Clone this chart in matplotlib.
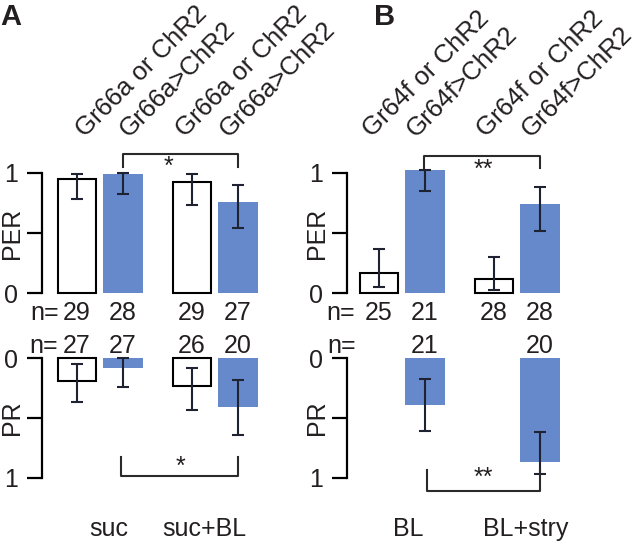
import matplotlib
matplotlib.use("Agg")
import matplotlib.pyplot as plt
import matplotlib.transforms as mtransforms
import numpy as np

plt.rcParams['font.family'] = ['Liberation Sans', 'DejaVu Sans']
plt.rcParams['text.color'] = '#231f20'

BLUE = '#6689cb'
INK = '#1f2230'

# bar positions (controls, ChR2) x 2 conditions
pos = [0, 1, 2.5, 3.5]
is_exp = [False, True, False, True]

# panel A : Gr66a
geno_A = ['Gr66a or ChR2', 'Gr66a>ChR2', 'Gr66a or ChR2', 'Gr66a>ChR2']
per_A = [0.95, 0.99, 0.92, 0.76]
per_A_lo = [0.78, 0.82, 0.73, 0.54]
per_A_hi = [0.99, 1.00, 0.99, 0.90]
n_per_A = ['29', '28', '29', '27']
pr_A = [0.19, 0.08, 0.23, 0.41]
pr_A_lo = [0.05, 0.00, 0.08, 0.18]
pr_A_hi = [0.37, 0.24, 0.43, 0.64]
n_pr_A = ['27', '27', '26', '20']
cond_A = ['suc', 'suc+BL']

# panel B : Gr64f
geno_B = ['Gr64f or ChR2', 'Gr64f>ChR2', 'Gr64f or ChR2', 'Gr64f>ChR2']
per_B = [0.17, 1.02, 0.12, 0.74]
per_B_lo = [0.055, 0.85, 0.03, 0.52]
per_B_hi = [0.37, 1.02, 0.30, 0.88]
n_per_B = ['25', '21', '28', '28']
pr_B = [np.nan, 0.39, np.nan, 0.87]
pr_B_lo = [np.nan, 0.17, np.nan, 0.62]
pr_B_hi = [np.nan, 0.61, np.nan, 0.97]
n_pr_B = ['', '21', '', '20']
cond_B = ['BL', 'BL+stry']

W, H = 640, 543
fig = plt.figure(figsize=(6.4, 5.43), dpi=100)


def make_ax(left_px, top_px, bot_px, xmin, ylim):
    ax = fig.add_axes([left_px / W, (H - bot_px) / H, 228 / W, (bot_px - top_px) / H])
    ax.set_xlim(xmin, xmin + 228 / 46)
    ax.set_ylim(*ylim)
    for s in ['top', 'right', 'bottom']:
        ax.spines[s].set_visible(False)
    ax.spines['left'].set_bounds(0, 1)
    ax.spines['left'].set_linewidth(1.6)
    ax.spines['left'].set_color('black')
    ax.set_xticks([])
    ax.set_yticks([0, 0.5, 1])
    ax.set_yticklabels(['0', '', '1'])
    ax.tick_params(axis='y', direction='out', length=11, width=1.6, pad=6,
                   labelsize=18, colors='black', labelcolor='#231f20')
    ax.patch.set_alpha(0)
    return ax


def draw_bars(ax, vals, lo, hi):
    for x, v, l, h, e in zip(pos, vals, lo, hi, is_exp):
        if np.isnan(v):
            continue
        if e:
            ax.bar(x, v, width=0.87, color=BLUE, edgecolor='none', zorder=2, clip_on=False)
        else:
            ax.bar(x, v, width=0.84, color='white', edgecolor='black', linewidth=1.5,
                   zorder=2, clip_on=False)
        ax.errorbar(x, v, yerr=[[max(v - l, 0)], [max(h - v, 0)]], fmt='none', ecolor=INK,
                    elinewidth=1.5, capsize=4.3, capthick=1.5, zorder=3, clip_on=False)


def bracket(ax, x0, x1, yend, ybar, star, sx, sy):
    ax.plot([x0, x0, x1, x1], [yend, ybar, ybar, yend], color='#2a2a2a', lw=1.5,
            clip_on=False, zorder=3)
    ax.text(sx, sy, star, ha='center', va='center', fontsize=18, clip_on=False)


def n_row(ax, labels, y, nx):
    ax.text(nx, y, 'n=', ha='right', va='center', fontsize=18, clip_on=False)
    for x, t in zip(pos, labels):
        ax.text(x, y, t, ha='center', va='center', fontsize=18, clip_on=False)


def ylab(ax, t):
    tr = mtransforms.blended_transform_factory(ax.transAxes, ax.transData)
    ax.text(-0.13, 0.5, t, rotation=90, ha='center', va='center', fontsize=18,
            transform=tr, clip_on=False)


def geno_labels(ax, xs, labels):
    for x, t in zip(xs, labels):
        ax.text(x, 1.29, t, rotation=45, rotation_mode='anchor', ha='left',
                va='baseline', fontsize=18.5, clip_on=False)


# ---------- panel A ----------
axA1 = make_ax(42, 140, 293.3, -0.76, (0, 153.3 / 120.6))
draw_bars(axA1, per_A, per_A_lo, per_A_hi)
ylab(axA1, 'PER')
bracket(axA1, 1.0, 3.5, 1.045, 1.153, '*', 1.98, 1.05)
n_row(axA1, n_per_A, -0.16, -0.40)
geno_labels(axA1, [0.18, 1.13, 2.35, 3.31], geno_A)

axA2 = make_ax(42, 358.3, 495, -0.76, (136.7 / 119.2, 0))
draw_bars(axA2, pr_A, pr_A_lo, pr_A_hi)
ylab(axA2, 'PR')
bracket(axA2, 0.95, 3.5, 0.826, 0.985, '*', 2.24, 0.91)
n_row(axA2, n_pr_A, -0.10, -0.42)
for x, t in zip([0.70, 2.78], cond_A):
    axA2.text(x, 1.43, t, ha='center', va='center', fontsize=18, clip_on=False)

# ---------- panel B ----------
axB1 = make_ax(346.7, 140, 293.3, -0.70, (0, 153.3 / 120.6))
draw_bars(axB1, per_B, per_B_lo, per_B_hi)
ylab(axB1, 'PER')
bracket(axB1, 0.98, 3.5, 1.037, 1.141, '**', 2.26, 1.02)
n_row(axB1, n_per_B, -0.16, -0.52)
geno_labels(axB1, [-0.15, 0.81, 2.33, 3.31], geno_B)

axB2 = make_ax(346.7, 358.3, 495, -0.70, (136.7 / 119.2, 0))
draw_bars(axB2, pr_B, pr_B_lo, pr_B_hi)
ylab(axB2, 'PR')
bracket(axB2, 1.04, 3.51, 0.937, 1.111, '**', 2.26, 1.00)
n_row(axB2, n_pr_B, -0.10, -0.50)
for x, t in zip([0.63, 3.2], cond_B):
    axB2.text(x, 1.43, t, ha='center', va='center', fontsize=18, clip_on=False)

fig.text(11 / W, 1 - 17 / H, 'A', fontsize=21, fontweight='bold', ha='center', va='center')
fig.text(385 / W, 1 - 17 / H, 'B', fontsize=21, fontweight='bold', ha='center', va='center')

fig.savefig('out.png', dpi=100)
